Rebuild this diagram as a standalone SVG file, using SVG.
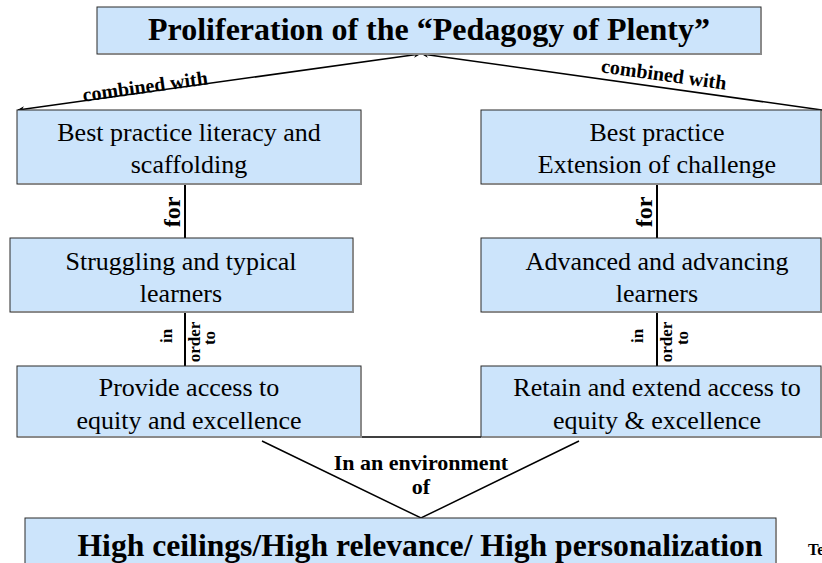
<svg xmlns="http://www.w3.org/2000/svg" width="822" height="563" viewBox="0 0 822 563">
  <style>
    .box { fill: #cce4fb; stroke: #2a2a2a; stroke-width: 1; }
    .shade { fill: none; stroke: #8a8a8a; stroke-width: 2; }
    text { font-family: "Liberation Serif", "Times New Roman", Times, "DejaVu Serif", serif; fill: #000; text-anchor: middle; }
    .t { font-size: 26px; }
    .title { font-size: 32px; font-weight: bold; }
    .lbl { font-weight: bold; }
    .cw { font-size: 20px; }
    .for { font-size: 24px; }
    .iot { font-size: 17px; }
    .env { font-size: 22px; }
    .side { font-size: 16px; text-anchor: start; }
    .line { stroke: #000; stroke-width: 2; fill: none; }
    .thin { stroke: #000; stroke-width: 1.5; fill: none; }
  </style>
  <defs>
    <marker id="arrow" viewBox="0 0 10 10" refX="9" refY="5" markerWidth="7" markerHeight="7" orient="auto-start-reverse" markerUnits="userSpaceOnUse">
      <path d="M0,1 L10,5 L0,9 L3,5 Z" fill="#000"/>
    </marker>
  </defs>
  <rect width="822" height="563" fill="#fff"/>

  <!-- connectors -->
  <g id="connectors">
    <line class="thin" x1="420" y1="54" x2="18" y2="110" marker-start="url(#arrow)" marker-end="url(#arrow)"/>
    <line class="thin" x1="422" y1="54" x2="822" y2="110" marker-start="url(#arrow)"/>
    <text class="lbl cw" transform="translate(146,93) rotate(-7.9)">combined with</text>
    <text class="lbl cw" transform="translate(663,81) rotate(7.9)">combined with</text>

    <line class="line" x1="185" y1="184" x2="185" y2="238"/>
    <text class="lbl for" transform="translate(180,212) rotate(-90)">for</text>
    <line class="line" x1="657" y1="184" x2="657" y2="238"/>
    <text class="lbl for" transform="translate(652,212) rotate(-90)">for</text>

    <line class="line" x1="185" y1="312" x2="185" y2="366"/>
    <text class="lbl iot" transform="translate(172,336) rotate(-90)">in</text>
    <text class="lbl iot" transform="translate(200,342) rotate(-90)">order</text>
    <text class="lbl iot" transform="translate(215,338) rotate(-90)">to</text>
    <line class="line" x1="657" y1="312" x2="657" y2="366"/>
    <text class="lbl iot" transform="translate(643,336) rotate(-90)">in</text>
    <text class="lbl iot" transform="translate(672,342) rotate(-90)">order</text>
    <text class="lbl iot" transform="translate(688,338) rotate(-90)">to</text>

    <line class="thin" x1="361" y1="437" x2="481" y2="437"/>
    <polyline class="thin" points="262,441 421,518 579,441"/>
    <text class="lbl env" x="421" y="470">In an environment</text>
    <text class="lbl env" x="421" y="494">of</text>
  </g>

  <!-- title -->
  <g id="title">
    <rect class="box" x="97" y="7" width="664" height="47"/>
    <polyline class="shade" points="761,8 761,54 98,54"/>
    <text class="title" x="429" y="40">Proliferation of the “Pedagogy of Plenty”</text>
  </g>

  <!-- left column -->
  <g id="literacy">
    <rect class="box" x="17" y="110" width="344" height="74"/>
    <polyline class="shade" points="361,111 361,184 18,184"/>
    <text class="t" x="189" y="141">Best practice literacy and</text>
    <text class="t" x="189" y="173">scaffolding</text>
  </g>
  <g id="struggling">
    <rect class="box" x="10" y="238" width="343" height="74"/>
    <polyline class="shade" points="353,239 353,312 11,312"/>
    <text class="t" x="181" y="270">Struggling and typical</text>
    <text class="t" x="181" y="302">learners</text>
  </g>
  <g id="access">
    <rect class="box" x="17" y="366" width="344" height="71"/>
    <polyline class="shade" points="361,367 361,437 18,437"/>
    <text class="t" x="189" y="396">Provide access to</text>
    <text class="t" x="189" y="429">equity and excellence</text>
  </g>

  <!-- right column -->
  <g id="extension">
    <rect class="box" x="481" y="110" width="340" height="74"/>
    <polyline class="shade" points="821,111 821,184 482,184"/>
    <text class="t" x="657" y="141">Best practice</text>
    <text class="t" x="657" y="173">Extension of challenge</text>
  </g>
  <g id="advanced">
    <rect class="box" x="481" y="238" width="340" height="74"/>
    <polyline class="shade" points="821,239 821,312 482,312"/>
    <text class="t" x="657" y="270">Advanced and advancing</text>
    <text class="t" x="657" y="302">learners</text>
  </g>
  <g id="retain">
    <rect class="box" x="481" y="366" width="340" height="71"/>
    <polyline class="shade" points="821,367 821,437 482,437"/>
    <text class="t" x="657" y="396">Retain and extend access to</text>
    <text class="t" x="657" y="429">equity &amp; excellence</text>
  </g>

  <!-- bottom -->
  <g id="environment">
    <rect class="box" x="25" y="518" width="751" height="60"/>
    <line class="shade" x1="776" y1="519" x2="776" y2="563"/>
    <text class="title" x="420" y="556" font-size="38" textLength="685" lengthAdjust="spacingAndGlyphs">High ceilings/High relevance/ High personalization</text>
  </g>
  <text class="lbl side" x="808" y="555">Te</text>
</svg>
